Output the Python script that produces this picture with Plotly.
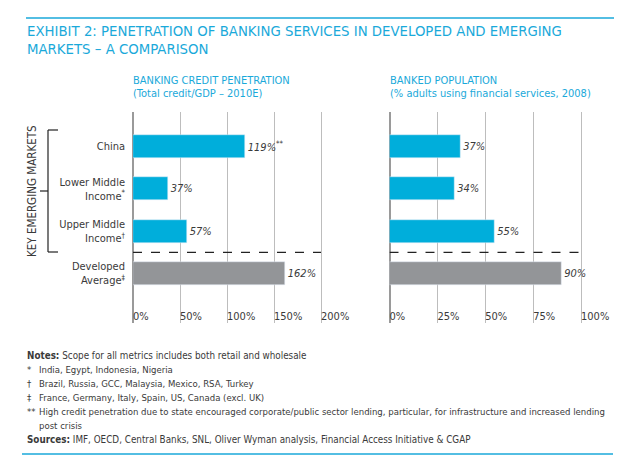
import plotly.graph_objects as go

categories = ["China", "Lower Middle<br>Income<sup>*</sup>", "Upper Middle<br>Income<sup>†</sup>", "Developed<br>Average<sup>‡</sup>"]
credit_values = [119, 37, 57, 162]
credit_labels = ["119%<sup>**</sup>", "37%", "57%", "162%"]
banked_values = [37, 34, 55, 90]
banked_labels = ["37%", "34%", "55%", "90%"]
credit_ticks = [0, 50, 100, 150, 200]
banked_ticks = [0, 25, 50, 75, 100]
bar_colors = ["#00aedb", "#00aedb", "#00aedb", "#939598"]

# page body has an 8px margin; lay out in screen pixels and compensate
OFF = 8
W, H = 624 - 2 * OFF, 472 - 2 * OFF
FONT = "DejaVu Sans Condensed, Liberation Sans Narrow, sans-serif"
TXT = "#3a3a3a"
CYAN = "#1aa9da"

def px(x):
    return (x - OFF) / W

def py(y):
    return 1 - (y - OFF) / H

ypos = list(range(len(categories)))

fig = go.Figure()
fig.add_trace(go.Bar(
    x=credit_values, y=ypos, orientation="h", marker_color=bar_colors, width=0.54,
    text=credit_labels, textposition="outside", cliponaxis=False,
    textfont=dict(family=FONT, size=11, color=TXT, style="italic"),
    xaxis="x", yaxis="y", hoverinfo="skip", showlegend=False))
fig.add_trace(go.Bar(
    x=banked_values, y=ypos, orientation="h", marker_color=bar_colors, width=0.54,
    text=banked_labels, textposition="outside", cliponaxis=False,
    textfont=dict(family=FONT, size=11, color=TXT, style="italic"),
    xaxis="x2", yaxis="y2", hoverinfo="skip", showlegend=False))

y_top, y_bot = 112, 323
c0, step = 146.5, 42.33
yr = [(y_bot - c0) / step, -(c0 - y_top) / step]

xcommon = dict(showgrid=True, gridcolor="#bdbdbd", gridwidth=1.3, zeroline=True,
               zerolinecolor="#9a9a9a", zerolinewidth=1.6, showline=False,
               ticks="", ticklabelposition="inside right", ticklabeloverflow="allow",
               ticklabelstandoff=-5, automargin=False,
               tickfont=dict(family=FONT, size=11, color=TXT), fixedrange=True)

L0, LS, LMAX = 133, 0.94, 212      # left chart: zero px, px per %, axis max
R0, RS, RMAX = 389.5, 1.915, 106   # right chart

fig.update_layout(
    width=W, height=H, margin=dict(l=0, r=0, t=0, b=0, autoexpand=False),
    paper_bgcolor="white", plot_bgcolor="white",
    bargap=0,
    xaxis=dict(domain=[px(L0), px(L0 + LS * LMAX)], range=[0, LMAX], tickvals=credit_ticks,
               ticktext=[f"{v}%" for v in credit_ticks], anchor="y", **xcommon),
    xaxis2=dict(domain=[px(R0), px(R0 + RS * RMAX)], range=[0, RMAX], tickvals=banked_ticks,
                ticktext=[f"{v}%" for v in banked_ticks], anchor="y2", **xcommon),
    yaxis=dict(domain=[py(y_bot), py(y_top)], range=yr, tickvals=ypos, ticktext=categories,
               showgrid=False, zeroline=False, ticks="", ticklabelstandoff=7, automargin=False,
               tickfont=dict(family=FONT, size=11, color=TXT), anchor="x"),
    yaxis2=dict(domain=[py(y_bot), py(y_top)], range=yr, tickvals=ypos, showticklabels=False,
                showgrid=False, zeroline=False, ticks="", anchor="x2", automargin=False),
    font=dict(family=FONT, color=TXT),
)

shapes = []
shapes.append(dict(type="line", xref="paper", yref="paper", x0=px(26), x1=px(614), y0=py(18), y1=py(18),
                   line=dict(color=CYAN, width=1.3)))
shapes.append(dict(type="line", xref="paper", yref="paper", x0=px(22), x1=px(613), y0=py(454), y1=py(454),
                   line=dict(color=CYAN, width=1.3)))
# dashed separators (between emerging and developed), spanning the 0..max-tick grid
shapes.append(dict(type="line", xref="x", yref="y", x0=0, x1=credit_ticks[-1], y0=2.5, y1=2.5,
                   line=dict(color="#222222", width=1.3, dash="dash")))
shapes.append(dict(type="line", xref="x2", yref="y2", x0=0, x1=banked_ticks[-1], y0=2.5, y1=2.5,
                   line=dict(color="#222222", width=1.3, dash="dash")))
# bracket
bx = px(48)
blk = dict(color="#222222", width=1.2)
shapes.append(dict(type="line", xref="paper", yref="paper", x0=bx, x1=bx, y0=py(130), y1=py(252), line=blk))
shapes.append(dict(type="line", xref="paper", yref="paper", x0=bx, x1=px(58), y0=py(130), y1=py(130), line=blk))
shapes.append(dict(type="line", xref="paper", yref="paper", x0=bx, x1=px(58), y0=py(252), y1=py(252), line=blk))
shapes.append(dict(type="line", xref="paper", yref="paper", x0=px(40), x1=bx, y0=py(191), y1=py(191), line=blk))
fig.update_layout(shapes=shapes)

ann = []
def text(x, y, s, size=11, color=TXT, xanchor="left", yanchor="middle", angle=0):
    ann.append(dict(xref="paper", yref="paper", x=px(x), y=py(y), text=s, showarrow=False,
                    xanchor=xanchor, yanchor=yanchor, textangle=angle, align="left",
                    borderpad=0, font=dict(family=FONT, size=size, color=color)))

text(26, 30.5, "EXHIBIT 2: PENETRATION OF BANKING SERVICES IN DEVELOPED AND EMERGING", size=14.8, color=CYAN)
text(26, 48, "MARKETS – A COMPARISON", size=14.8, color=CYAN)
text(132, 80.5, "BANKING CREDIT PENETRATION", size=11, color=CYAN)
text(132, 93.5, "(Total credit/GDP – 2010E)", size=11, color=CYAN)
text(389, 80.5, "BANKED POPULATION", size=11, color=CYAN)
text(389, 93.5, "(% adults using financial services, 2008)", size=11, color=CYAN)
text(32, 191, "KEY EMERGING MARKETS", size=11.5, xanchor="center", angle=-90)

NS = 9.5
text(26, 355, "<b>Notes:</b> Scope for all metrics includes both retail and wholesale", size=9.8)
marks = ["*", "†", "‡", "**"]
note_y = [369, 383, 397, 411]
note_lines = ["India, Egypt, Indonesia, Nigeria",
              "Brazil, Russia, GCC, Malaysia, Mexico, RSA, Turkey",
              "France, Germany, Italy, Spain, US, Canada (excl. UK)",
              "High credit penetration due to state encouraged corporate/public sector lending, particular, for infrastructure and increased lending"]
for yy, m, s in zip(note_y, marks, note_lines):
    text(26, yy, m, size=NS)
    text(38, yy, s, size=NS)
text(38, 425, "post crisis", size=NS)
text(26, 439, "<b>Sources:</b> IMF, OECD, Central Banks, SNL, Oliver Wyman analysis, Financial Access Initiative &amp; CGAP", size=9.8)

fig.update_layout(annotations=ann)
fig.write_html("out.html")
